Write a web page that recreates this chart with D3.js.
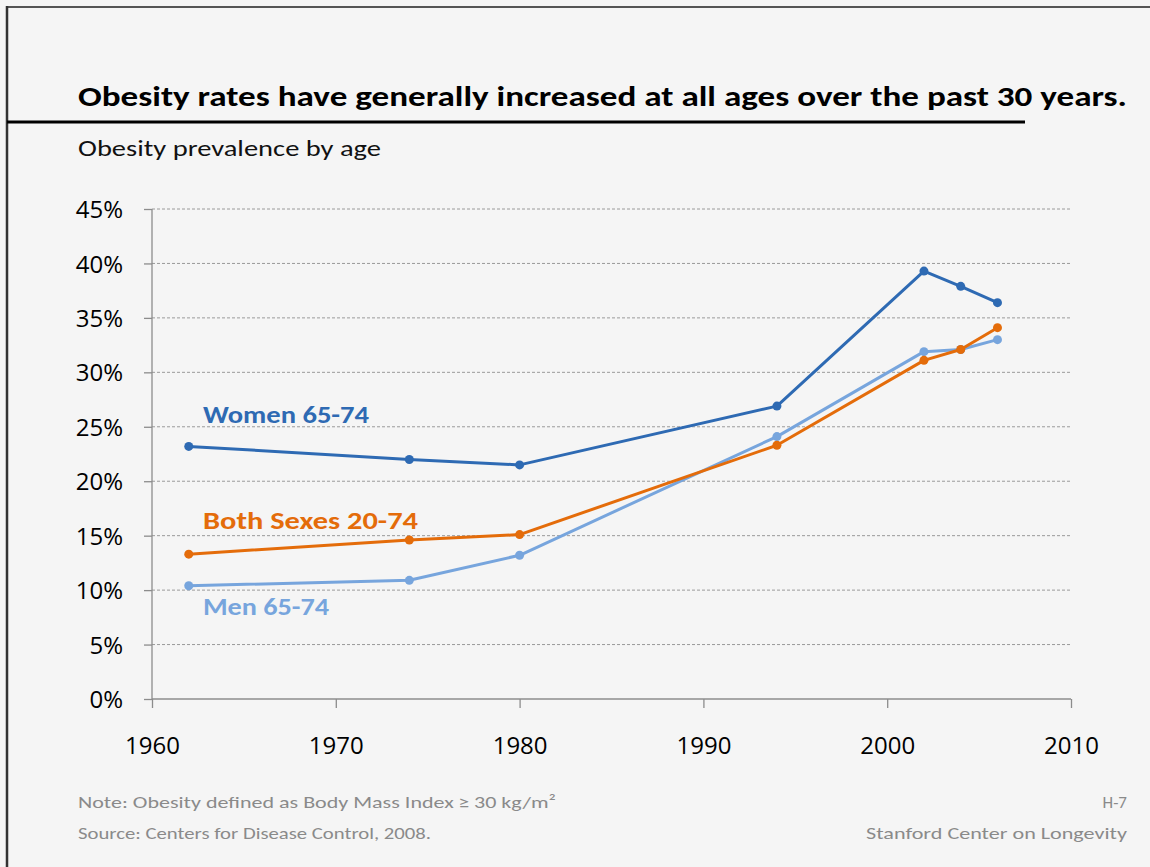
<!DOCTYPE html>
<html><head><meta charset="utf-8">
<script src="https://cdn.jsdelivr.net/npm/d3@7"></script>
<style>
html,body{margin:0;padding:0;background:#f5f5f5;}
svg{display:block;}
</style></head>
<body>
<svg id="c" width="1150" height="867"></svg>
<script>
const years = [1962, 1974, 1980, 1994, 2002, 2004, 2006];
const women = [23.2, 22.0, 21.5, 26.9, 39.3, 37.9, 36.4];
const bothSexes = [13.3, 14.6, 15.1, 23.3, 31.1, 32.1, 34.1];
const men = [10.4, 10.9, 13.2, 24.1, 31.9, 32.1, 33.0];
const seriesNames = ["Women 65-74", "Both Sexes 20-74", "Men 65-74"];
const seriesColors = ["#2e6ab3", "#e46c0a", "#77a5dd"];
const xTicks = [1960, 1970, 1980, 1990, 2000, 2010];
const yTicks = [0, 5, 10, 15, 20, 25, 30, 35, 40, 45];
const titleText = "Obesity rates have generally increased at all ages over the past 30 years.";
const subtitleText = "Obesity prevalence by age";
const noteText = "Note: Obesity defined as Body Mass Index\u2009\u2265 30 kg/m\u00b2";
const sourceText = "Source: Centers for Disease Control, 2008.";
const pageId = "H-7";
const orgText = "Stanford Center on Longevity";

const svg = d3.select("#c");
const font = "Carlito, Calibri, Lato, sans-serif";
const tickFont = "'Open Sans', 'Segoe UI', sans-serif";

svg.append("rect").attr("width",1150).attr("height",867).attr("fill","#f5f5f5");
// frame
svg.append("line").attr("x1",6).attr("x2",1150).attr("y1",7).attr("y2",7).attr("stroke","#555").attr("stroke-width",2);
svg.append("line").attr("x1",7).attr("x2",7).attr("y1",6).attr("y2",867).attr("stroke","#333").attr("stroke-width",2.5);

// title
svg.append("text").attr("x",78).attr("y",106).attr("font-family",font).attr("font-weight","bold")
  .attr("font-size",29).attr("fill","#000").attr("textLength",1049).attr("lengthAdjust","spacingAndGlyphs").text(titleText);
svg.append("line").attr("x1",7).attr("x2",1025).attr("y1",122).attr("y2",122).attr("stroke","#000").attr("stroke-width",3);
svg.append("text").attr("x",78).attr("y",156).attr("font-family",font)
  .attr("font-size",23).attr("fill","#111").attr("textLength",303).attr("lengthAdjust","spacingAndGlyphs").text(subtitleText);

const x = d3.scaleLinear().domain([1960,2010]).range([152,1071]);
const y = d3.scaleLinear().domain([0,45]).range([699,209]);

// gridlines
svg.append("g").selectAll("line").data(yTicks.filter(d=>d>0)).join("line")
  .attr("x1",152).attr("x2",1071).attr("y1",d=>y(d)).attr("y2",d=>y(d))
  .attr("stroke","#9a9a9a").attr("stroke-width",1).attr("stroke-dasharray","3,2");

// y axis
const yAxis = svg.append("g").attr("transform","translate(152,0)")
  .call(d3.axisLeft(y).tickValues(yTicks).tickSize(8).tickPadding(12).tickFormat(d=>d+"%"));
yAxis.select(".domain").attr("stroke","#8c8c8c").attr("stroke-width",1.3).attr("d","M0,699V209");
yAxis.selectAll(".tick line").attr("stroke","#8c8c8c").attr("stroke-width",1.3);
yAxis.selectAll(".tick text").attr("font-family",tickFont).attr("font-size",24).attr("fill","#000").attr("dy","0.36em").attr("x",-29);

// x axis
const xAxis = svg.append("g").attr("transform","translate(0,699)")
  .call(d3.axisBottom(x).tickValues(xTicks).tickSize(9).tickPadding(8).tickFormat(d3.format("d")));
xAxis.select(".domain").attr("stroke","#8c8c8c").attr("stroke-width",1.3).attr("d","M152,0H1071");
xAxis.selectAll(".tick line").attr("stroke","#8c8c8c").attr("stroke-width",1.3);
xAxis.selectAll(".tick text").attr("font-family",tickFont).attr("font-size",24).attr("fill","#000").attr("dy",0).attr("y",55);

// series
const allSeries = [women, bothSexes, men];
const line = d3.line().x((d,i)=>x(years[i])).y(d=>y(d));
const drawOrder = [2,1,0];
drawOrder.forEach(si=>{
  const vals = allSeries[si];
  svg.append("path").datum(vals).attr("d",line).attr("fill","none")
    .attr("stroke",seriesColors[si]).attr("stroke-width",3).attr("stroke-linejoin","round");
  svg.append("g").selectAll("circle").data(vals).join("circle")
    .attr("cx",(d,i)=>x(years[i])).attr("cy",d=>y(d)).attr("r",4.5).attr("fill",seriesColors[si]);
});

// series labels
const labelPos = [[203,423,166],[203,529,215],[203,615,126]];
seriesNames.forEach((n,i)=>{
  svg.append("text").attr("x",labelPos[i][0]).attr("y",labelPos[i][1]).attr("font-family",font)
    .attr("font-weight","bold").attr("font-size",25).attr("fill",seriesColors[i])
    .attr("textLength",labelPos[i][2]).attr("lengthAdjust","spacingAndGlyphs").text(n);
});

// footer
const foot = {"font-family":font,"font-size":17,"fill":"#8a8a8a"};
function ft(t,xx,yy,anchor,len){
  const e = svg.append("text").attr("x",xx).attr("y",yy).attr("text-anchor",anchor).text(t);
  Object.entries(foot).forEach(([k,v])=>e.attr(k,v));
  if(len) e.attr("textLength",len).attr("lengthAdjust","spacingAndGlyphs");
}
ft(noteText,78,808,"start",478);
ft(sourceText,78,839,"start",353);
ft(pageId,1127,808,"end",null);
ft(orgText,1127,839,"end",261);
</script>
</body></html>
